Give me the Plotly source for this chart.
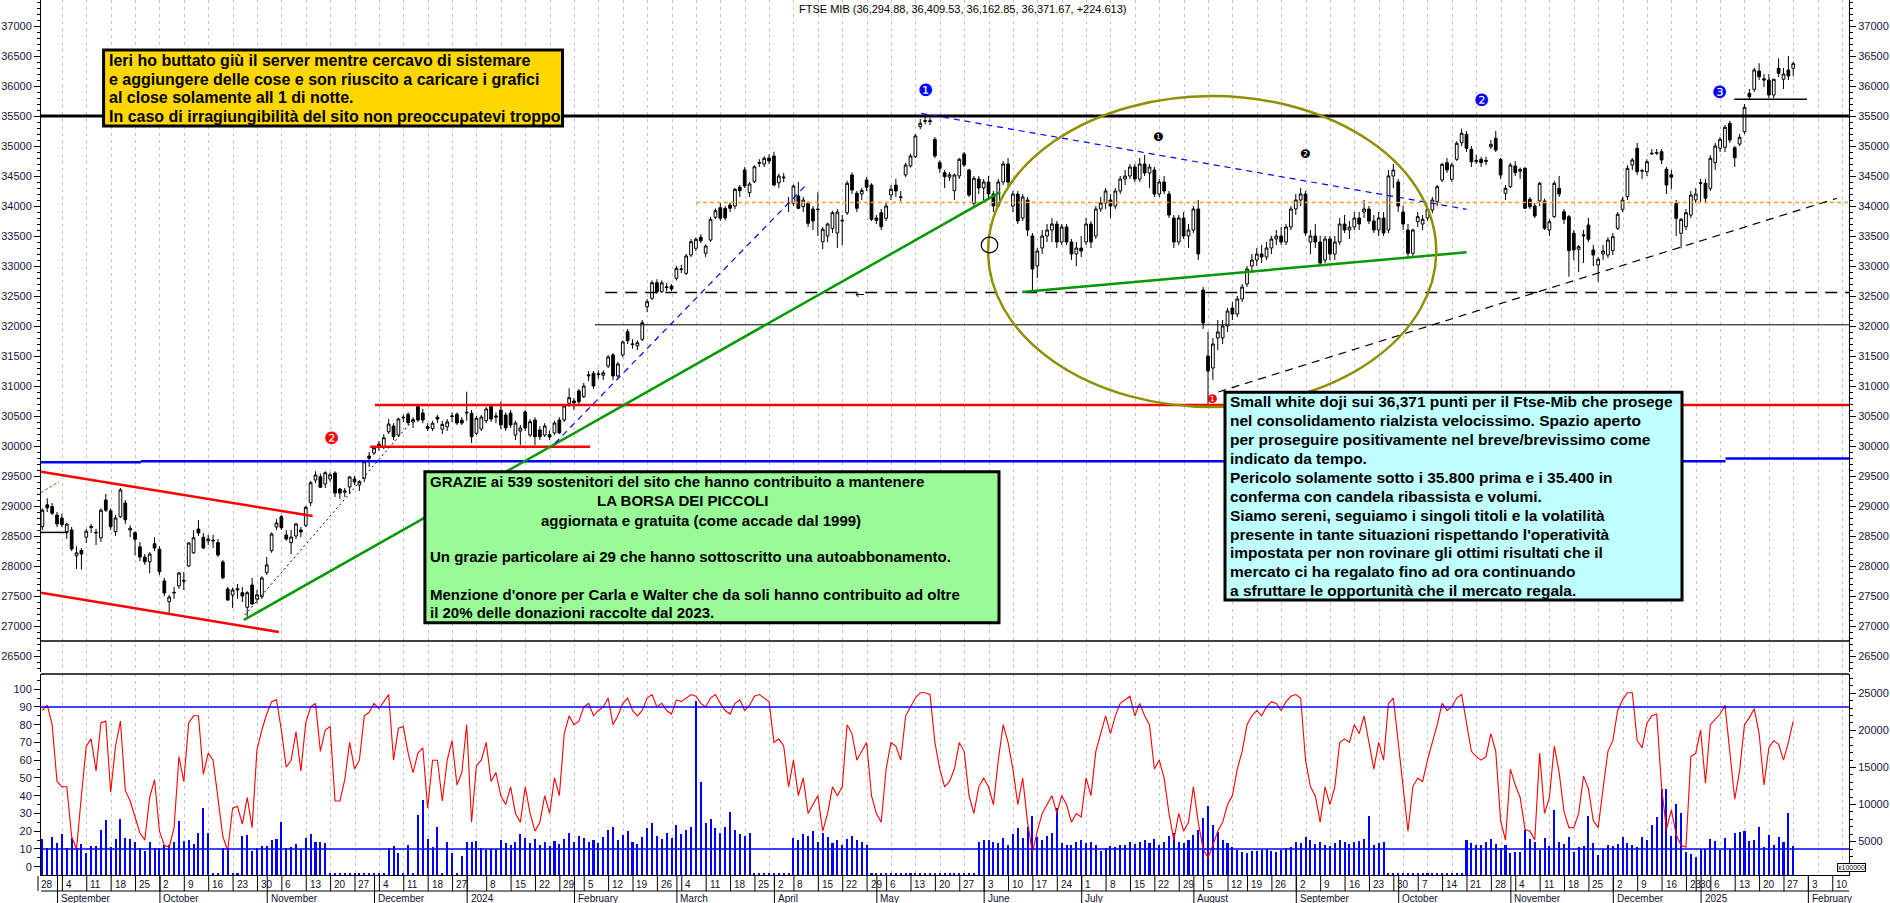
import numpy as np
import pandas as pd
import plotly.graph_objects as go

# ===================== DATA =====================
# FTSE MIB daily candles [open, high, low, close], one list per month
c_2023_08 = [[28655,28960,28600,28930],[29020,29130,28900,28970],[28990,29050,28850,28880],[28850,28900,28650,28700]]
c_2023_09 = [[28800,28870,28650,28690],[28570,28720,28450,28700],[28600,28650,28250,28283],[28170,28330,27950,28220],
             [28260,28300,27940,28200],[28480,28620,28380,28580],[28640,28700,28550,28660],[28550,28620,28350,28560],
             [28470,28960,28400,28930],[29100,29200,28900,28930],[28920,28960,28600,28655],[28570,28850,28500,28800],
             [28820,29300,28800,29267],[29050,29100,28700,28770],[28600,28680,28480,28630],[28555,28580,28180,28445],
             [28320,28400,28080,28150],[28150,28200,28020,28070],[28070,28230,27880,28200],[28370,28480,28250,28300],
             [28280,28330,27850,27905]]
c_2023_10 = [[27750,27800,27500,27550],[27405,27520,27217,27483],[27550,27650,27450,27560],[27667,27900,27620,27883],
             [27760,27900,27600,27750],[28000,28400,27980,28383],[28220,28600,28200,28470],[28617,28767,28500,28550],
             [28480,28550,28280,28300],[28420,28520,28350,28450],[28430,28520,28300,28420],[28390,28450,28150,28183],
             [28067,28100,27780,27805],[27617,27650,27420,27433],[27517,27640,27300,27600],[27600,27700,27450,27620],
             [27555,27650,27400,27500],[27312,27580,27150,27555],[27683,27800,27350,27367],[27450,27600,27380,27520],
             [27488,27830,27450,27800],[27888,28150,27850,28017]]
c_2023_11 = [[28255,28560,28220,28533],[28650,28780,28600,28717],[28822,28850,28600,28638],[28517,28600,28420,28450],
             [28388,28600,28200,28483],[28500,28720,28450,28700],[28600,28650,28480,28567],[28678,29000,28650,28978],
             [29055,29420,29000,29388],[29433,29580,29380,29517],[29488,29540,29300,29312],[29367,29580,29300,29555],
             [29450,29560,29400,29520],[29550,29580,29150,29217],[29283,29300,29120,29217],[29230,29300,29150,29250],
             [29317,29500,29200,29483],[29450,29500,29350,29400],[29350,29430,29250,29405],[29462,29760,29400,29738],
             [29833,29900,29650,29795],[29883,30000,29850,29967]]
c_2023_12 = [[30000,30080,29920,30030],[29988,30200,29950,30138],[30238,30450,30200,30367],[30333,30380,30100,30155],
             [30183,30470,30150,30450],[30470,30520,30400,30478],[30528,30560,30350,30388],[30400,30480,30300,30440],
             [30655,30680,30400,30433],[30550,30620,30380,30433],[30322,30380,30250,30295],[30290,30420,30250,30380],
             [30480,30520,30380,30450],[30280,30420,30200,30360],[30320,30450,30250,30400],[30490,30560,30400,30500],
             [30528,30560,30350,30383],[30430,30480,30350,30383],[30550,30905,30420,30560]]
c_2024_01 = [[30545,30600,30050,30155],[30212,30500,30180,30462],[30283,30520,30250,30483],[30422,30650,30380,30617],
             [30655,30680,30400,30450],[30480,30560,30380,30500],[30600,30740,30280,30350],[30517,30560,30250,30300],
             [30550,30600,30300,30350],[30183,30420,30100,30383],[30250,30350,30017,30300],[30567,30600,30250,30300],
             [30183,30450,30150,30405],[30433,30480,30017,30155],[30267,30330,30100,30155],[30183,30380,30150,30333],
             [30190,30260,30100,30150],[30217,30420,30180,30383],[30433,30480,30200,30217],[30433,30700,30400,30667],
             [30712,30962,30650,30805],[30750,30800,30600,30720]]
c_2024_02 = [[30917,30950,30700,30738],[30822,31050,30800,31000],[31170,31250,31080,31183],[31212,31250,30950,31000],
             [31190,31260,31120,31200],[31180,31260,31100,31220],[31333,31520,31300,31483],[31517,31550,31100,31167],
             [31167,31400,31120,31367],[31517,31760,31480,31733],[31905,31950,31700,31755],[31690,31780,31620,31700],
             [31667,31760,31600,31722],[31778,32100,31750,32055],[32322,32450,32230,32405],[32462,32760,32430,32722],
             [32722,32780,32540,32572],[32572,32760,32550,32720],[32640,32720,32580,32650],[32667,32700,32580,32617],
             [32795,33000,32760,32962]]
c_2024_03 = [[32940,33020,32880,32950],[32878,33200,32850,33167],[33183,33450,33150,33405],[33295,33480,33250,33445],
             [33480,33530,33380,33420],[33212,33360,33150,33333],[33433,33820,33400,33778],[33812,33960,33780,33922],
             [33972,34050,33750,33795],[33960,34000,33760,33800],[34017,34060,33900,33962],[34000,34300,33950,34278],
             [34312,34350,34150,34255],[34600,34650,34300,34333],[34222,34400,34150,34367],[34405,34680,34380,34655],
             [34710,34780,34650,34722],[34700,34830,34650,34795],[34800,34860,34700,34750],[34833,34905,34330,34350]]
c_2024_04 = [[34388,34540,34300,34500],[34470,34550,34400,34480],[34060,34150,33900,34050],[34045,34360,34000,34333],
             [34167,34400,33950,33962],[33990,34150,33900,34100],[34045,34080,33650,33712],[33950,34000,33600,33750],
             [33950,34230,33500,33940],[33405,33650,33280,33612],[33500,33720,33400,33700],[33628,33920,33550,33888],
             [33550,33950,33300,33900],[33750,33850,33350,33760],[33888,34420,33850,34378],[34517,34560,34200,34267],
             [34212,34250,33900,33962],[34200,34300,34100,34260],[34433,34480,34250,34312],[34350,34380,33750,33778],
             [33800,33850,33700,33760]]
c_2024_05 = [[33888,33950,33600,33655],[33795,34050,33750,34000],[34183,34350,34100,34278],[34350,34450,34150,34250],
             [34140,34250,34080,34150],[34517,34720,34480,34683],[34667,34870,34640,34833],[34822,35200,34800,35167],
             [35322,35450,35280,35378],[35410,35480,35360,35422],[35420,35470,35350,35410],[35112,35150,34800,34833],
             [34722,34760,34550,34628],[34555,34600,34300,34488],[34480,34560,34420,34520],[34255,34540,34100,34517],
             [34500,34800,34450,34778],[34867,34900,34650,34683],[34600,34620,34150,34183],[34045,34500,34000,34462],
             [34450,34500,34200,34300],[34300,34450,34100,34400]]
c_2024_06 = [[34400,34500,34100,34200],[34200,34250,33900,34000],[34000,34450,33980,34400],[34400,34750,34350,34700],
             [34700,34800,34300,34400],[34000,34250,33900,34200],[34200,34250,33700,33750],[33800,34200,33750,34150],
             [34100,34150,33500,33600],[33500,33550,32600,32950],[33000,33300,32800,33250],[33300,33600,33200,33500],
             [33500,33700,33400,33600],[33600,33800,33400,33700],[33700,33750,33300,33400],[33400,33700,33350,33650],
             [33650,33700,33350,33400],[33400,33450,33100,33200],[33200,33400,33000,33300],[33300,33500,33150,33250]]
c_2024_07 = [[33400,33800,33350,33700],[33700,33750,33300,33400],[33500,34000,33450,33950],[33950,34150,33900,34050],
             [34050,34300,33950,34250],[34100,34200,33800,34000],[34000,34300,33950,34250],[34250,34500,34200,34450],
             [34450,34600,34350,34500],[34500,34700,34450,34650],[34650,34700,34400,34450],[34450,34800,34400,34700],
             [34700,34850,34500,34550],[34550,34700,34300,34650],[34600,34650,34150,34200],[34200,34450,34150,34400],
             [34400,34500,34200,34250],[34200,34250,33800,33850],[33800,33850,33300,33400],[33400,33850,33350,33800],
             [33800,33900,33450,33500],[33500,33700,33300,33600],[33600,34000,33550,33950]]
c_2024_08 = [[33950,34100,33100,33200],[32600,32650,31950,32050],[31500,31900,30650,31250],[31300,31800,31100,31700],
             [31800,32100,31600,31900],[31800,32100,31700,32000],[32000,32300,31900,32250],[32300,32400,32100,32200],
             [32200,32500,32150,32450],[32450,32700,32400,32650],[32700,33000,32650,32950],[33000,33200,32900,33100],
             [33100,33300,33000,33200],[33200,33350,33050,33150],[33150,33400,33100,33300],[33300,33500,33200,33450],
             [33450,33600,33350,33500],[33500,33650,33350,33400],[33400,33700,33350,33650],[33650,34000,33600,33950],
             [33950,34200,33850,34100]]
c_2024_09 = [[34100,34300,34000,34200],[34200,34250,33500,33550],[33400,33600,33200,33500],[33500,33700,33300,33400],
             [33400,33500,33000,33050],[33100,33500,33050,33450],[33450,33500,33100,33200],[33200,33500,33100,33400],
             [33400,33800,33350,33700],[33700,33850,33550,33600],[33600,33750,33450,33650],[33650,33900,33600,33800],
             [33800,33900,33600,33700],[33900,34100,33800,33950],[33950,34000,33700,33750],[33750,33850,33550,33600],
             [33600,33900,33500,33800],[33800,33900,33500,33550],[33600,34600,33550,34500],[34500,34700,34300,34600],
             [34400,34450,33900,34000]]
c_2024_10 = [[33900,34000,33600,33700],[33600,33700,33150,33212],[33212,33620,33150,33600],[33738,33900,33650,33822],
             [33700,33850,33600,33780],[33800,34000,33750,33950],[33933,34150,33880,34100],[34072,34350,34000,34322],
             [34433,34720,34400,34695],[34722,34800,34550,34600],[34445,34720,34400,34683],[34778,35080,34750,35045],
             [35055,35290,35000,35212],[35195,35250,34900,34962],[34945,35000,34650,34738],[34760,34850,34700,34740],
             [34778,34820,34650,34722],[34740,34820,34680,34760],[34988,35100,34950,35028],[35128,35250,34900,34933],
             [34778,34800,34450,34517],[34212,34350,34100,34295],[34322,34720,34300,34683]]
c_2024_11 = [[34667,34750,34500,34555],[34580,34640,34450,34610],[34628,34650,33950,33962],[34112,34150,33950,33988],
             [34000,34050,33800,33833],[34083,34400,34000,34378],[34083,34120,33600,33628],[33600,33780,33500,33738],
             [33822,34420,33800,34378],[34295,34500,34150,34200],[33905,33950,33700,33778],[33822,33850,32822,33255],
             [33545,33600,33100,33267],[33278,33350,32900,33322],[33500,33600,33050,33517],[33683,33800,33400,33445],
             [33267,33350,33000,33183],[33017,33150,32738,33112],[33200,33350,33100,33250],[33183,33480,33130,33433],
             [33255,33550,33180,33488]]
c_2024_12 = [[33628,33900,33600,33862],[33945,34150,33900,34100],[34155,34680,34100,34628],[34683,34800,34600,34767],
             [34962,35050,34520,34572],[34580,34620,34450,34590],[34572,34780,34500,34738],[34870,34950,34850,34878],
             [34880,34950,34850,34890],[34905,34950,34700,34767],[34612,34650,34200,34350],[34520,34600,34280,34480],
             [34045,34100,33500,33795],[33545,33800,33295,33778],[33655,33950,33600,33888],[33850,34250,33800,34183],
             [34100,34300,34050,34200],[34388,34450,34050,34380]]
c_2025_01 = [[34378,34450,34050,34128],[34295,34850,34250,34795],[34722,35050,34600,35000],[34962,35150,34900,35112],
             [34978,35350,34900,35312],[35378,35420,35050,35100],[34972,35000,34650,34805],[35033,35200,35000,35145],
             [35238,35700,35200,35645],[35878,35950,35780,35822],[35945,36300,35900,36267],[36250,36380,36100,36155],
             [36120,36200,35980,36100],[36100,36200,35800,35850],[35850,36120,35800,36112],[36295,36462,36150,36212],
             [36112,36300,35950,36200],[36267,36500,36100,36167],[36294.88,36409.53,36162.85,36371.67]]

# oscillator (left scale of lower panel, 0-100)
osc_2023_08 = [88, 91, 80, 48]
osc_2023_09 = [45, 45, 17, 10, 40, 68, 72, 54, 81, 82, 42, 68, 82, 43, 37, 28, 19, 15, 39, 49, 20]
osc_2023_10 = [12, 11, 22, 62, 48, 81, 85, 85, 52, 64, 60, 37, 17, 9, 33, 34, 24, 39, 22, 66, 77, 86]
osc_2023_11 = [93, 94, 77, 56, 60, 76, 54, 81, 90, 92, 65, 77, 79, 37, 37, 49, 70, 55, 60, 85, 87, 92]
osc_2023_12 = [89, 93, 97, 60, 78, 79, 64, 53, 64, 67, 33, 60, 60, 37, 60, 71, 46, 53, 80]
osc_2024_01 = [25, 57, 60, 70, 48, 53, 40, 35, 45, 30, 25, 45, 30, 20, 25, 40, 30, 50, 40, 75, 85, 80]
osc_2024_02 = [82, 90, 92, 85, 88, 90, 95, 80, 85, 92, 95, 88, 85, 88, 95, 97, 90, 92, 88, 86, 94]
osc_2024_03 = [93, 95, 97, 96, 92, 90, 95, 97, 92, 88, 86, 92, 94, 88, 91, 96, 97, 95, 93, 70]
osc_2024_04 = [72, 68, 45, 60, 40, 50, 30, 35, 40, 20, 30, 45, 40, 45, 80, 75, 60, 65, 70, 40, 30]
osc_2024_05 = [25, 55, 70, 68, 60, 85, 90, 95, 98, 98, 97, 70, 55, 45, 48, 55, 70, 65, 40, 30, 45, 50]
osc_2024_06 = [45, 35, 60, 80, 70, 55, 35, 50, 25, 8, 20, 30, 35, 40, 30, 40, 35, 25, 30, 28]
osc_2024_07 = [50, 40, 65, 75, 85, 75, 85, 92, 94, 96, 85, 92, 85, 80, 55, 60, 50, 30, 15, 30, 20, 25, 45]
osc_2024_08 = [25, 10, 5, 12, 20, 25, 35, 40, 55, 65, 80, 85, 88, 85, 90, 93, 92, 88, 93, 96, 97]
osc_2024_09 = [95, 60, 45, 40, 25, 45, 35, 45, 70, 72, 70, 80, 75, 85, 70, 55, 70, 60, 92, 95, 70]
osc_2024_10 = [45, 20, 45, 50, 48, 60, 70, 80, 92, 88, 90, 95, 97, 80, 65, 62, 60, 62, 75, 65, 26, 15, 55]
osc_2024_11 = [46, 39, 21, 20, 15, 64, 30, 39, 68, 53, 31, 22, 22, 30, 51, 44, 26, 22, 44, 65, 71]
osc_2024_12 = [88, 94, 98, 98, 71, 67, 81, 85, 86, 45, 21, 32, 18, 12, 11, 62, 64, 77]
osc_2025_01 = [47, 80, 83, 86, 91, 64, 38, 54, 80, 84, 89, 75, 46, 67, 71, 69, 60, 70, 82]

# volume (right scale of lower panel)
vol_2023_08 = [5400, 4200, 5600, 4800]
vol_2023_09 = [6000, 4100, 5500, 4200, 4700, 3400, 4400, 4400, 6600, 7900, 4300, 5400, 8000, 5500, 5400, 4900, 4200, 3800, 5000, 4200, 4200]
vol_2023_10 = [4500, 4500, 5000, 7800, 5100, 5200, 4700, 6100, 9600, 6200, 800, 800, 4100, 4100, 800, 800, 5700, 5900, 3800, 4200, 4400, 4400]
vol_2023_11 = [5200, 5400, 7600, 4100, 4300, 4700, 4000, 5500, 6000, 5000, 4900, 4800, 800, 800, 800, 800, 800, 800, 800, 800, 800, 800]
vol_2023_12 = [800, 800, 4200, 4400, 3400, 800, 4500, 800, 8600, 10600, 5400, 4300, 7000, 800, 5000, 3500, 800, 3100, 5000]
vol_2024_01 = [5000, 5100, 4200, 3900, 4000, 4000, 5200, 4800, 4500, 5000, 6000, 5500, 4800, 5300, 4600, 4900, 4400, 5100, 4700, 5300, 6200, 5000]
vol_2024_02 = [5800, 5500, 4900, 5200, 4800, 5600, 6500, 7000, 5200, 5900, 6400, 5000, 4700, 5600, 6800, 7500, 5800, 5400, 6200, 5500, 7200]
vol_2024_03 = [6000, 6500, 7000, 24000, 13000, 7500, 8000, 6800, 6200, 7000, 9000, 6500, 6000, 5800, 6200, 800, 800, 800, 800, 800]
vol_2024_04 = [800, 800, 800, 5500, 5200, 6000, 5800, 6400, 5000, 6200, 5600, 4800, 5200, 4500, 5300, 5800, 5200, 4900, 4600, 800, 800]
vol_2024_05 = [800, 800, 800, 800, 800, 800, 800, 800, 800, 800, 800, 800, 800, 800, 800, 800, 800, 800, 800, 800, 5000, 5200]
vol_2024_06 = [5200, 4900, 4800, 5500, 4600, 6000, 6800, 5500, 7000, 8500, 5600, 5200, 5800, 6100, 9500, 4800, 4500, 4600, 4900, 5200]
vol_2024_07 = [4800, 5000, 4500, 3800, 4200, 4400, 4300, 4600, 4500, 5000, 4700, 4900, 5200, 4800, 5300, 4600, 5000, 5800, 6200, 5000, 4800, 5200, 5900]
vol_2024_08 = [6500, 8200, 9800, 7200, 6300, 5200, 4800, 4300, 3900, 3600, 3400, 3800, 3700, 3900, 4000, 3800, 3600, 3900, 4100, 4300, 5000]
vol_2024_09 = [4800, 5600, 5200, 4700, 5000, 4600, 4400, 4800, 5200, 4900, 4700, 5000, 5100, 5300, 8500, 4600, 4800, 5000, 800, 800, 800]
vol_2024_10 = [800, 800, 800, 800, 800, 800, 800, 800, 800, 800, 800, 800, 800, 5200, 4800, 4600, 4500, 4900, 5300, 4700, 4100, 4550, 3500]
vol_2024_11 = [3650, 3560, 6570, 5300, 5000, 3880, 5450, 4400, 9270, 4900, 4700, 5670, 3560, 4240, 4460, 8500, 4780, 3200, 4000, 4550, 4460]
vol_2024_12 = [4640, 5580, 4780, 4550, 4240, 5670, 5220, 7250, 8280, 12060, 12100, 5800, 10080, 8900, 3650, 3340, 2980, 3970]
vol_2025_01 = [3970, 5300, 5140, 3880, 5450, 3970, 6120, 6260, 6440, 5090, 5220, 7020, 4240, 5940, 4550, 5630, 4960, 8900, 4420]

holidays = ["2023-12-25", "2023-12-26", "2024-01-01", "2024-03-29", "2024-04-01", "2024-05-01",
            "2024-08-15", "2024-12-24", "2024-12-25", "2024-12-26", "2024-12-31", "2025-01-01"]
y_ticks_main = list(range(26500, 37001, 500))
y_ticks_osc = list(range(0, 101, 10))
y_ticks_vol = list(range(5000, 25001, 5000))
month_names = {2: "February", 3: "March", 4: "April", 5: "May", 6: "June", 7: "July", 8: "August",
               9: "September", 10: "October", 11: "November", 12: "December"}
title_text = "FTSE MIB (36,294.88, 36,409.53, 36,162.85, 36,371.67, +224.613)"
yellow_lines = ["Ieri ho buttato giù il server mentre cercavo di sistemare",
                "e aggiungere delle cose e son riuscito a caricare i grafici",
                "al close solamente all 1 di notte.",
                "In caso di irragiungibilità del sito non preoccupatevi troppo,"]
green_lines = ["GRAZIE ai 539 sostenitori del sito che hanno contribuito a mantenere",
               "LA BORSA DEI PICCOLI",
               "aggiornata e gratuita (come accade dal 1999)",
               "Un grazie particolare ai 29 che hanno sottoscritto una autoabbonamento.",
               "Menzione d'onore per Carla e Walter che da soli hanno contribuito ad oltre",
               "il 20% delle donazioni raccolte dal 2023."]
cyan_lines = ["Small white doji sui 36,371 punti per il Ftse-Mib che prosege",
              "nel consolidamento rialzista velocissimo. Spazio aperto",
              "per proseguire positivamente nel breve/brevissimo come",
              "indicato da tempo.",
              "Pericolo solamente sotto i 35.800 prima e i 35.400 in",
              "conferma con candela ribassista e volumi.",
              "Siamo sereni, seguiamo i singoli titoli e la volatilità",
              "presente in tante situazioni rispettando l'operatività",
              "impostata per non rovinare gli ottimi risultati che il",
              "mercato ci ha regalato fino ad ora continuando",
              "a sfruttare le opportunità che il mercato regala."]

# drawn studies: (x0 bar, y0, x1 bar, y1, color, width, dash)
drawn_lines = [
    (0.615, 35500, 371.33, 35500, "#000000", 3, "solid"),
    (114.2, 32020, 371.33, 32020, "#000000", 1, "solid"),
    (116.3, 32560, 371.33, 32560, "#000000", 1.5, "12px,8px"),
    (134.9, 34060, 371.33, 34060, "#ff9933", 1.5, "4px,3px"),
    (69.1, 30683, 371.33, 30683, "#ff0000", 2.5, "solid"),
    (68.1, 29988, 113.2, 29988, "#ff0000", 2.5, "solid"),
    (0.615, 29728, 21.1, 29728, "#0000ff", 2.5, "solid"),
    (21.1, 29745, 346.0, 29745, "#0000ff", 2.5, "solid"),
    (346.0, 29790, 371.33, 29790, "#0000ff", 2.5, "solid"),
    (0.615, 28560, 6.2, 28560, "#000000", 1.5, "solid"),
    (0.615, 26750, 371.33, 26750, "#000000", 1.5, "solid"),
    (347.8, 35778, 362.7, 35778, "#000000", 1.5, "solid"),
    (0.615, 29572, 56.3, 28833, "#ff0000", 2.5, "solid"),
    (0.615, 27555, 49.4, 26900, "#ff0000", 2.5, "solid"),
    (42.2, 27100, 197.3, 34230, "#009900", 2.5, "solid"),
    (42.4, 27183, 76.3, 30378, "#000000", 1, "2px,3px"),
    (106.0, 30045, 157.3, 34333, "#0000ff", 1.2, "6px,5px"),
    (181.1, 35545, 292.9, 33945, "#0000ff", 1.2, "6px,5px"),
    (201.8, 32567, 292.9, 33228, "#009900", 2.5, "solid"),
    (242.0, 30900, 368.8, 34128, "#000000", 1.2, "8px,6px"),
    (0.615, 29222, 4.3, 29405, "#009900", 1, "3px,2px"),
]
ellipse = (194.8, 30650, 286.7, 35833)
small_circle = (193.4, 33220, 196.8, 33480)
markers = [("❶", 181.9, 35933, "#0000ff", 17), ("❷", 295.9, 35767, "#0000ff", 17),
           ("❸", 344.7, 35900, "#0000ff", 17), ("❷", 60.1, 30133, "#ff0000", 17),
           ("❶", 229.7, 35150, "#000000", 12), ("❷", 259.8, 34867, "#000000", 12),
           ("❶", 240.9, 30783, "#ff0000", 12)]

# ===================== BUILD =====================
def cat(prefix):
    out = []
    for k in ["2023_08", "2023_09", "2023_10", "2023_11", "2023_12", "2024_01", "2024_02", "2024_03",
              "2024_04", "2024_05", "2024_06", "2024_07", "2024_08", "2024_09", "2024_10", "2024_11",
              "2024_12", "2025_01"]:
        out += globals()[prefix + k]
    return out

ohlc = np.array(cat("c_"), dtype=float)
opens, highs, lows, closes = ohlc.T
osc = np.array(cat("osc_"), dtype=float)
vol = np.array(cat("vol_"), dtype=float)
N = len(ohlc)

cal = pd.bdate_range("2023-08-28", "2025-03-31")
cal = cal[~cal.isin(pd.to_datetime(holidays))][:372]

W, H = 1890, 903
ML, MR, MT, MB = 41, 41, 0, 28
PW, PH = W - ML - MR, H - MT - MB
X0, X1 = 0.615, 371.33
BAR = 0.9
xb = np.arange(N) + BAR
Y0, Y1 = 26233.3, 37433.3
OSC0, OSC1 = -4.68, 108.56
VOL0, VOL1 = 499, 27599


def px_x(p):
    return (p - ML) / PW


def px_y(p):
    return (PH - (p - MT)) / PH


def dx_paper(x):
    return (x - X0) / (X1 - X0)


main_bot = px_y(672)
low_top = px_y(674)

fig = go.Figure()
fig.add_trace(go.Candlestick(
    x=xb, open=opens, high=highs, low=lows, close=closes, xaxis="x", yaxis="y",
    increasing=dict(line=dict(color="#000000", width=1), fillcolor="#ffffff"),
    decreasing=dict(line=dict(color="#000000", width=1), fillcolor="#000000"),
    whiskerwidth=0, showlegend=False, hoverinfo="skip"))
fig.add_trace(go.Scatter(x=[X0], y=[30000], xaxis="x", yaxis="y4", mode="markers",
                         marker=dict(opacity=0), showlegend=False, hoverinfo="skip"))
fig.add_trace(go.Bar(x=xb, y=vol, xaxis="x2", yaxis="y2", width=0.42,
                     marker=dict(color="#0000ff", line=dict(width=0)), showlegend=False, hoverinfo="skip"))
fig.add_trace(go.Scatter(x=xb, y=osc, xaxis="x2", yaxis="y3", mode="lines",
                         line=dict(color="#ff0000", width=1.1), showlegend=False, hoverinfo="skip"))

shapes = []
for (x0, y0, x1, y1, col, w, dash) in drawn_lines:
    shapes.append(dict(type="line", xref="x", yref="y", x0=x0, y0=y0, x1=x1, y1=y1,
                       line=dict(color=col, width=w, dash=dash)))
shapes.append(dict(type="circle", xref="x", yref="y", x0=ellipse[0], y0=ellipse[1], x1=ellipse[2], y1=ellipse[3],
                   line=dict(color="#8f8f00", width=2.5)))
shapes.append(dict(type="circle", xref="x", yref="y", x0=small_circle[0], y0=small_circle[1],
                   x1=small_circle[2], y1=small_circle[3], line=dict(color="#000000", width=1.2)))
for lev in (10, 90):
    shapes.append(dict(type="line", xref="x2", yref="y3", x0=X0, x1=X1, y0=lev, y1=lev,
                       line=dict(color="#0000ff", width=1.5)))
shapes.append(dict(type="line", xref="paper", yref="paper", x0=0, x1=1, y0=low_top, y1=low_top,
                   line=dict(color="#000000", width=1.5)))

# date axis rows
week_ticks, month_ticks = [], []
for k in range(len(cal)):
    d = cal[k]
    if k == 0 or d.isocalendar()[1] != cal[k - 1].isocalendar()[1]:
        week_ticks.append(k)
    if k > 0 and d.month != cal[k - 1].month:
        month_ticks.append(k)
week_ticks = [k for k in week_ticks if k <= 370]
month_ticks = [k for k in month_ticks if k <= 370]

annotations = []
lab_font = dict(size=10, color="#101030", family="Liberation Sans")
for k in week_ticks:
    d = cal[k]
    txt = "" if (d.month == 1 and k in month_ticks) else str(d.day)
    shapes.append(dict(type="line", xref="paper", yref="paper", x0=dx_paper(k), x1=dx_paper(k),
                       y0=px_y(876), y1=px_y(891), line=dict(color="#000000", width=1)))
    if txt:
        annotations.append(dict(x=dx_paper(k + 0.3), y=px_y(884), xref="paper", yref="paper", text=txt,
                                showarrow=False, xanchor="left", yanchor="middle", font=lab_font))
for k in month_ticks:
    d = cal[k]
    txt = str(d.year) if d.month == 1 else month_names[d.month]
    shapes.append(dict(type="line", xref="paper", yref="paper", x0=dx_paper(k), x1=dx_paper(k),
                       y0=px_y(876), y1=px_y(903), line=dict(color="#000000", width=1)))
    annotations.append(dict(x=dx_paper(k + 0.3), y=px_y(898), xref="paper", yref="paper", text=txt,
                            showarrow=False, xanchor="left", yanchor="middle", font=lab_font))
shapes.append(dict(type="line", xref="paper", yref="paper", x0=0, x1=1, y0=px_y(891), y1=px_y(891),
                   line=dict(color="#000000", width=1)))

# title
annotations.append(dict(x=px_x(797), y=px_y(9), xref="paper", yref="paper", text=title_text, showarrow=False,
                        xanchor="left", yanchor="middle", font=dict(size=11, color="#000000", family="Liberation Sans")))

# text boxes
def textbox(x0, y0, x1, y1, fill, lines, size):
    shapes.append(dict(type="rect", xref="paper", yref="paper", x0=px_x(x0), x1=px_x(x1), y0=px_y(y1), y1=px_y(y0),
                       fillcolor=fill, line=dict(color="#000000", width=3), layer="above"))
    for (txt, lx, ly, anchor) in lines:
        annotations.append(dict(x=px_x(lx), y=px_y(ly), xref="paper", yref="paper", text="<b>" + txt + "</b>",
                                showarrow=False, xanchor=anchor, yanchor="middle",
                                font=dict(size=size, color="#000000", family="Liberation Sans")))

textbox(103.6, 50, 562.5, 126, "#ffd700",
        [(t, 107, 60 + i * 19, "left") for i, t in enumerate(yellow_lines)], 16)
g_y = [481.7, 500.7, 520, 556.7, 594.3, 612.7]
g_x = [(428, "left"), (682, "center"), (700.5, "center"), (428, "left"), (428, "left"), (428, "left")]
textbox(424.9, 471.7, 999, 622.7, "#98fb98",
        [(t, g_x[i][0], g_y[i], g_x[i][1]) for i, t in enumerate(green_lines)], 15)
textbox(1225, 392.3, 1682, 600, "#bfffff",
        [(t, 1228, 401.7 + i * 18.9, "left") for i, t in enumerate(cyan_lines)], 15.5)

for (sym, mx, my, col, sz) in markers:
    annotations.append(dict(x=mx, y=my, xref="x", yref="y", text=sym, showarrow=False,
                            font=dict(size=sz, color=col, family="DejaVu Sans")))
annotations.append(dict(x=168.5, y=32533, xref="x", yref="y", text="←", showarrow=False,
                        font=dict(size=11, color="#000000", family="DejaVu Sans")))
annotations.append(dict(x=px_x(1866), y=px_y(872), xref="paper", yref="paper", text="x100000", showarrow=False,
                        font=dict(size=7, color="#000000", family="Liberation Sans"),
                        bordercolor="#000000", borderwidth=1, borderpad=0, bgcolor="#ffffff"))

axis_font = dict(family="Liberation Sans", size=11, color="#14143c")
grid_vals = list(range(0, 372, 5))
common_x = dict(range=[X0, X1], showgrid=True, gridcolor="#c4c4c4", griddash="3px,4px", gridwidth=1,
                tickmode="array", tickvals=grid_vals, showticklabels=False, ticks="", zeroline=False)


def yax(rng, ticks, minor_dtick, side, **kw):
    d = dict(range=rng, side=side, tickmode="array", tickvals=ticks, ticktext=[str(v) for v in ticks],
             ticks="outside", ticklen=6, tickcolor="#000000", showline=True, linecolor="#000000", linewidth=1,
             showgrid=False, zeroline=False, tickfont=axis_font,
             minor=dict(dtick=minor_dtick, tick0=0, ticks="outside", ticklen=3, tickcolor="#000000", showgrid=False))
    d.update(kw)
    return d


fig.update_layout(
    width=W, height=H, margin=dict(l=ML, r=MR, t=MT, b=MB),
    paper_bgcolor="#ffffff", plot_bgcolor="#ffffff",
    font=dict(family="Liberation Sans", color="#000000"),
    showlegend=False, bargap=0, boxgap=0.2,
    xaxis=dict(common_x, domain=[0, 1], anchor="y", showline=False, rangeslider=dict(visible=False)),
    xaxis2=dict(common_x, domain=[0, 1], anchor="y2", matches="x", showline=True, linecolor="#000000", linewidth=1),
    yaxis=yax([Y0, Y1], y_ticks_main, 100, "left", domain=[main_bot, 1], anchor="x"),
    yaxis4=yax([Y0, Y1], y_ticks_main, 100, "right", overlaying="y", anchor="x"),
    yaxis2=yax([VOL0, VOL1], y_ticks_vol, 1000, "right", domain=[0, low_top], anchor="x2"),
    yaxis3=yax([OSC0, OSC1], y_ticks_osc, 5, "left", overlaying="y2", anchor="x2"),
    shapes=shapes, annotations=annotations,
)

fig.write_html("out.html")
